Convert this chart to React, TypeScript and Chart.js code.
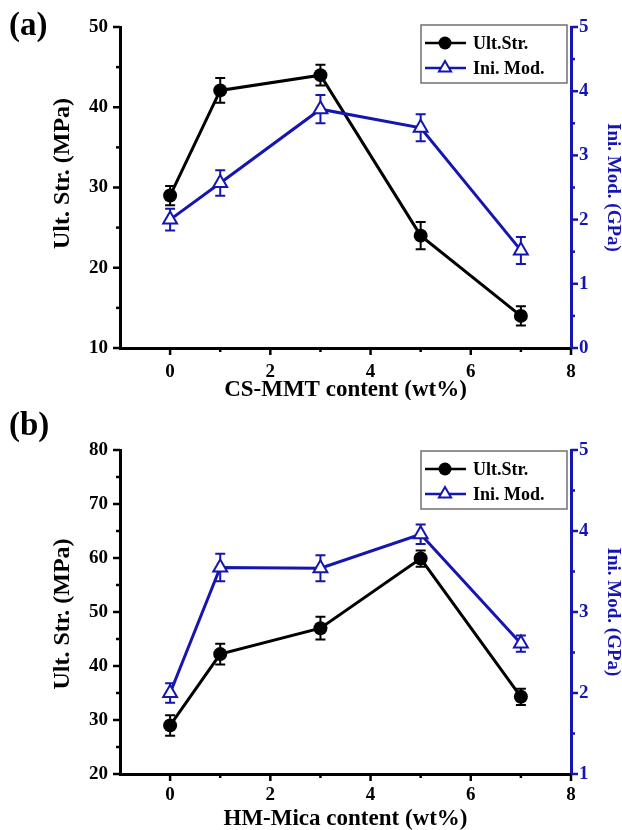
import React, { useEffect, useRef } from 'react';
import { Chart, registerables } from 'chart.js';

Chart.register(...registerables);

// ---------- data ----------
const contentX = [0, 1, 3, 5, 7];

const ultStrA = [29, 42.1, 44, 24, 14];
const ultErrA = [1.2, 1.55, 1.3, 1.7, 1.2];
const iniModA = [2.0, 2.57, 3.72, 3.43, 1.52];
const iniErrA = [0.17, 0.2, 0.22, 0.21, 0.21];

const ultStrB = [29, 42.2, 47, 59.9, 34.3];
const ultErrB = [1.9, 1.9, 2.1, 1.5, 1.5];
const iniModB = [2.0, 3.55, 3.54, 3.96, 2.61];
const iniErrB = [0.12, 0.17, 0.16, 0.12, 0.1];

const xTicks = [0, 2, 4, 6, 8];
const yLeftTicksA = [10, 20, 30, 40, 50];
const yRightTicksA = [0, 1, 2, 3, 4, 5];
const yLeftTicksB = [20, 30, 40, 50, 60, 70, 80];
const yRightTicksB = [1, 2, 3, 4, 5];

const seriesNames = ['Ult.Str.', 'Ini. Mod.'];
const xTitleA = 'CS-MMT content (wt%)';
const xTitleB = 'HM-Mica content (wt%)';
const yLeftTitle = 'Ult. Str. (MPa)';
const yRightTitle = 'Ini. Mod. (GPa)';

// ---------- styles ----------
const FONT = "'Liberation Serif', 'Times New Roman', serif";
const BLUE = '#1515b0';
const BLACK = '#000000';

const midpoints = (arr: number[]) => arr.slice(0, -1).map((v, i) => (v + arr[i + 1]) / 2);

// error bars drawn just before each dataset
const errorBarPlugin = {
  id: 'errorBars',
  beforeDatasetDraw(chart: any, args: any) {
    const ds = chart.data.datasets[args.index];
    const errs: number[] = ds.errors;
    if (!errs) return;
    const meta = args.meta;
    const yScale = chart.scales[meta.yAxisID];
    const ctx = chart.ctx;
    ctx.save();
    ctx.strokeStyle = ds.borderColor;
    ctx.lineWidth = 2;
    meta.data.forEach((pt: any, i: number) => {
      const v = ds.data[i].y;
      const e = errs[i];
      const yt = yScale.getPixelForValue(v + e);
      const yb = yScale.getPixelForValue(v - e);
      const x = pt.x;
      ctx.beginPath();
      ctx.moveTo(x, yt);
      ctx.lineTo(x, yb);
      ctx.moveTo(x - 5, yt);
      ctx.lineTo(x + 5, yt);
      ctx.moveTo(x - 5, yb);
      ctx.lineTo(x + 5, yb);
      ctx.stroke();
    });
    ctx.restore();
  },
};

// outward major / minor tick marks
const tickMarksPlugin = {
  id: 'tickMarks',
  afterDraw(chart: any, _a: any, opts: any) {
    const ctx = chart.ctx;
    const ca = chart.chartArea;
    ctx.save();
    ctx.lineWidth = 2.5;
    (opts.axes || []).forEach((ax: any) => {
      const scale = chart.scales[ax.id];
      ctx.strokeStyle = ax.color;
      const draw = (vals: number[], len: number) => {
        vals.forEach((v) => {
          const p = scale.getPixelForValue(v);
          ctx.beginPath();
          if (ax.id === 'x') {
            ctx.moveTo(p, ca.bottom);
            ctx.lineTo(p, ca.bottom + len);
          } else if (scale.position === 'left') {
            ctx.moveTo(ca.left, p);
            ctx.lineTo(ca.left - len, p);
          } else {
            ctx.moveTo(ca.right, p);
            ctx.lineTo(ca.right + len, p);
          }
          ctx.stroke();
        });
      };
      draw(ax.major, 7);
      draw(ax.minor, 4);
    });
    ctx.restore();
  },
};

// left axis title (drawn manually so it can sit slightly off-centre like the original)
const leftTitlePlugin = {
  id: 'leftTitle',
  afterDraw(chart: any, _a: any, opts: any) {
    const ctx = chart.ctx;
    const ca = chart.chartArea;
    const cy = (ca.top + ca.bottom) / 2 + opts.shift;
    ctx.save();
    ctx.translate(opts.x, cy);
    ctx.rotate(-Math.PI / 2);
    ctx.font = `bold 24px ${FONT}`;
    ctx.fillStyle = BLACK;
    ctx.textAlign = 'center';
    ctx.textBaseline = 'middle';
    ctx.fillText(opts.text, 0, 0);
    ctx.restore();
  },
};

// boxed legend in the top-right of the plot area
const boxLegendPlugin = {
  id: 'boxLegend',
  afterDraw(chart: any, _a: any, opts: any) {
    const ctx = chart.ctx;
    const ca = chart.chartArea;
    const w = opts.width;
    const h = opts.height;
    const x0 = ca.right - opts.right - w;
    const y0 = ca.top + opts.top;
    ctx.save();
    ctx.fillStyle = '#ffffff';
    ctx.fillRect(x0, y0, w, h);
    ctx.strokeStyle = '#707070';
    ctx.lineWidth = 1.5;
    ctx.strokeRect(x0, y0, w, h);
    chart.data.datasets.forEach((ds: any, i: number) => {
      const cy = y0 + 18 + i * 25;
      ctx.strokeStyle = ds.borderColor;
      ctx.lineWidth = 2.5;
      ctx.beginPath();
      ctx.moveTo(x0 + 4, cy);
      ctx.lineTo(x0 + 45, cy);
      ctx.stroke();
      const mx = x0 + 24;
      if (ds.pointStyle === 'triangle') {
        const r = 7;
        ctx.beginPath();
        for (let k = 0; k < 3; k++) {
          const a = -Math.PI / 2 + (k * 2 * Math.PI) / 3;
          const px = mx + Math.cos(a) * r;
          const py = cy + Math.sin(a) * r;
          if (k === 0) ctx.moveTo(px, py);
          else ctx.lineTo(px, py);
        }
        ctx.closePath();
        ctx.fillStyle = '#ffffff';
        ctx.fill();
        ctx.lineWidth = 2;
        ctx.stroke();
      } else {
        ctx.beginPath();
        ctx.arc(mx, cy, 6.5, 0, Math.PI * 2);
        ctx.fillStyle = ds.borderColor;
        ctx.fill();
      }
      ctx.fillStyle = BLACK;
      ctx.font = `bold 18px ${FONT}`;
      ctx.textAlign = 'left';
      ctx.textBaseline = 'middle';
      ctx.fillText(ds.label, x0 + 52, cy + 1);
    });
    ctx.restore();
  },
};

type PanelCfg = {
  ult: number[];
  ultErr: number[];
  ini: number[];
  iniErr: number[];
  leftTicks: number[];
  rightTicks: number[];
  xTitle: string;
  padTop: number;
  xAxisHeight: number;
  xTickPad: number;
  xTitlePad: number;
  legendTop: number;
  leftTitleShift: number;
};

function buildConfig(p: PanelCfg): any {
  const tickFont = { family: FONT, size: 19, weight: 'bold' as const };
  return {
    type: 'line',
    data: {
      datasets: [
        {
          label: seriesNames[0],
          data: contentX.map((x, i) => ({ x, y: p.ult[i] })),
          errors: p.ultErr,
          yAxisID: 'y',
          borderColor: BLACK,
          backgroundColor: BLACK,
          borderWidth: 3,
          pointStyle: 'circle',
          pointRadius: 7,
          pointBorderWidth: 0,
          pointBackgroundColor: BLACK,
          pointBorderColor: BLACK,
          tension: 0,
          order: 1,
        },
        {
          label: seriesNames[1],
          data: contentX.map((x, i) => ({ x, y: p.ini[i] })),
          errors: p.iniErr,
          yAxisID: 'y1',
          borderColor: BLUE,
          backgroundColor: '#ffffff',
          borderWidth: 3,
          pointStyle: 'triangle',
          pointRadius: 8,
          pointBorderWidth: 2,
          pointBackgroundColor: '#ffffff',
          pointBorderColor: BLUE,
          tension: 0,
          order: 0,
        },
      ],
    },
    options: {
      responsive: false,
      animation: false,
      devicePixelRatio: 1,
      layout: { padding: { top: p.padTop, left: 0, right: 0, bottom: 0 } },
      plugins: {
        legend: { display: false },
        tooltip: { enabled: false },
        tickMarks: {
          axes: [
            { id: 'x', major: xTicks, minor: midpoints(xTicks), color: BLACK },
            { id: 'y', major: p.leftTicks, minor: midpoints(p.leftTicks), color: BLACK },
            { id: 'y1', major: p.rightTicks, minor: midpoints(p.rightTicks), color: BLUE },
          ],
        },
        leftTitle: { text: yLeftTitle, x: 63, shift: p.leftTitleShift },
        boxLegend: { width: 146, height: 58, right: 4, top: p.legendTop },
      },
      scales: {
        x: {
          type: 'linear',
          min: -1,
          max: 8,
          afterBuildTicks: (s: any) => {
            s.ticks = xTicks.map((v) => ({ value: v }));
          },
          afterFit: (s: any) => {
            s.height = p.xAxisHeight;
          },
          grid: { display: false, drawTicks: false },
          border: { display: true, color: BLACK, width: 3 },
          ticks: {
            color: BLACK,
            font: tickFont,
            padding: p.xTickPad,
            autoSkip: false,
            maxRotation: 0,
            callback: (v: any) => String(v),
          },
          title: {
            display: true,
            text: p.xTitle,
            color: BLACK,
            font: { family: FONT, size: 23, weight: 'bold', lineHeight: 1 },
            padding: { top: 0, bottom: p.xTitlePad },
          },
        },
        y: {
          type: 'linear',
          position: 'left',
          min: p.leftTicks[0],
          max: p.leftTicks[p.leftTicks.length - 1],
          afterBuildTicks: (s: any) => {
            s.ticks = p.leftTicks.map((v) => ({ value: v }));
          },
          afterFit: (s: any) => {
            s.width = 120;
          },
          grid: { display: false, drawTicks: false },
          border: { display: true, color: BLACK, width: 3 },
          ticks: { color: BLACK, font: tickFont, padding: 12, callback: (v: any) => String(v) },
          title: { display: false },
        },
        y1: {
          type: 'linear',
          position: 'right',
          min: p.rightTicks[0],
          max: p.rightTicks[p.rightTicks.length - 1],
          afterBuildTicks: (s: any) => {
            s.ticks = p.rightTicks.map((v) => ({ value: v }));
          },
          afterFit: (s: any) => {
            s.width = 51;
          },
          grid: { display: false, drawTicks: false },
          border: { display: true, color: BLUE, width: 3 },
          ticks: { color: BLUE, font: tickFont, padding: 8, callback: (v: any) => String(v) },
          title: {
            display: true,
            text: yRightTitle,
            color: BLUE,
            font: { family: FONT, size: 19, weight: 'bold', lineHeight: 1 },
            padding: { top: 0, bottom: 0 },
          },
        },
      },
    },
    plugins: [errorBarPlugin, tickMarksPlugin, leftTitlePlugin, boxLegendPlugin],
  };
}

const panelA: PanelCfg = {
  ult: ultStrA,
  ultErr: ultErrA,
  ini: iniModA,
  iniErr: iniErrA,
  leftTicks: yLeftTicksA,
  rightTicks: yRightTicksA,
  xTitle: xTitleA,
  padTop: 27,
  xAxisHeight: 52,
  xTickPad: 13,
  xTitlePad: -1.5,
  legendTop: -2,
  leftTitleShift: -14,
};

const panelB: PanelCfg = {
  ult: ultStrB,
  ultErr: ultErrB,
  ini: iniModB,
  iniErr: iniErrB,
  leftTicks: yLeftTicksB,
  rightTicks: yRightTicksB,
  xTitle: xTitleB,
  padTop: 50,
  xAxisHeight: 56,
  xTickPad: 10,
  xTitlePad: -1,
  legendTop: 1,
  leftTitleShift: 2,
};

function Panel({ cfg, top, height, tag }: { cfg: PanelCfg; top: number; height: number; tag: string }) {
  const ref = useRef<HTMLCanvasElement>(null);
  useEffect(() => {
    const chart = new Chart(ref.current as HTMLCanvasElement, buildConfig(cfg));
    return () => chart.destroy();
  }, [cfg]);
  return (
    <>
      <canvas
        ref={ref}
        width={622}
        height={height}
        style={{ position: 'absolute', left: 0, top, width: 622, height }}
      />
      <div
        style={{
          position: 'absolute',
          left: 9,
          top: top + 8,
          fontFamily: FONT,
          fontWeight: 'bold',
          fontSize: 33,
          lineHeight: 1,
          color: BLACK,
        }}
      >
        {tag}
      </div>
    </>
  );
}

export default function App() {
  return (
    <div style={{ position: 'absolute', left: 0, top: 0, width: 622, height: 830, background: '#fff' }}>
      <Panel cfg={panelA} top={0} height={400} tag="(a)" />
      <Panel cfg={panelB} top={400} height={430} tag="(b)" />
    </div>
  );
}
